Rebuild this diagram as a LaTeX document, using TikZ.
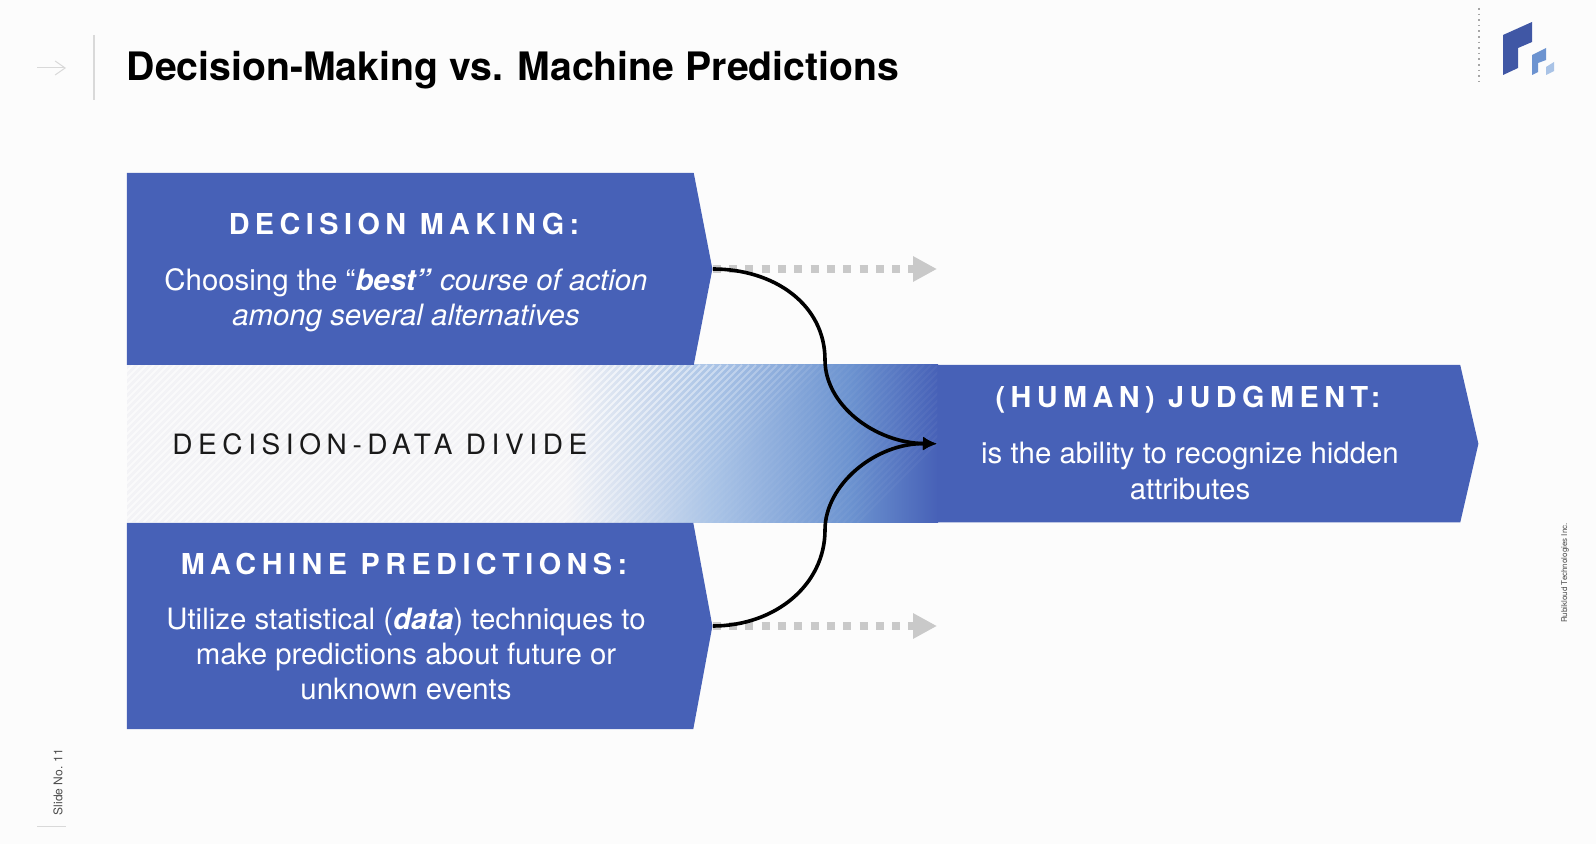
\documentclass[tikz,border=0pt]{standalone}
\usepackage{fontspec}
\setmainfont{TeX Gyre Heros}
\newfontfamily\headfont[LetterSpace=19]{TeX Gyre Heros}
\newfontfamily\dividefont[LetterSpace=20]{TeX Gyre Heros}
\usetikzlibrary{arrows.meta,positioning,shapes.symbols}
\definecolor{slideblue}{HTML}{4761B7}
\definecolor{palebg}{HTML}{F3F3F6}
\definecolor{midblue}{HTML}{A9C3E6}
\definecolor{deepblue}{HTML}{6C93D0}
\definecolor{dotgray}{HTML}{C9C9C9}
\definecolor{rulegray}{HTML}{D9D9D9}
\tikzset{
    bluebox/.style={signal, signal to=east, fill=slideblue, inner sep=0pt, minimum height=#1, anchor=west},
    headtext/.style={text=white, inner sep=0pt, font=\headfont\bfseries\fontsize{14.4}{17}\selectfont},
    bodytext/.style={text=white, inner sep=0pt, align=center, font=\fontsize{14.7}{17.6}\selectfont},
    dotarrow/.style={draw=dotgray, line width=4pt, dash pattern=on 4pt off 4.15pt, -{Triangle[length=12pt,width=12pt,fill=dotgray]}},
    joinarrow/.style={draw=black, line width=1.8pt, -{Latex[length=7pt,width=7pt]}},
    smalltext/.style={text=black!70, inner sep=0pt, rotate=90},
  }

\begin{document}
\begin{tikzpicture}[x=0.5pt,y=-0.5pt]
    \useasboundingbox (0,0) rectangle (1596,844);
    \fill[white!99!black] (0,0) rectangle (1596,844);

    %% title row
    \draw[rulegray, line width=0.5pt, -{Straight Barb[length=5pt,width=7pt]}] (37,68) coordinate (backtail) -- (66,68) coordinate (backhead);
    \draw[rulegray, line width=0.8pt] (94,35) coordinate (ruletop) -- (94,100) coordinate (rulebot);
    \node[anchor=west, inner sep=0pt, font=\bfseries\fontsize{19.6}{23}\selectfont] (title) at (126.5,70) {Decision-Making vs. Machine Predictions};

    %% logo
    \draw[gray!70, line width=0.8pt, dotted] (1479,8) coordinate (logotop) -- (1479,83) coordinate (logobot);
    \fill[slideblue!90!black] (1503,35) -- (1532,22) -- (1532,42) -- (1518,48) -- (1518,68) -- (1503,75) -- cycle;
    \fill[deepblue] (1532,55) -- (1546,48) -- (1546,60) -- (1538,63) -- (1538,72) -- (1532,75) -- cycle;
    \fill[midblue] (1546,67) -- (1554,62) -- (1554,71) -- (1546,75) -- cycle;

    %% band
    \fill[palebg] (126.5,365) rectangle (565,522.5);
    \shade[left color=palebg, right color=midblue] (565,365) rectangle (715,522.5);
    \shade[left color=midblue, right color=deepblue] (715,365) rectangle (850,522.5);
    \shade[left color=deepblue, right color=slideblue] (850,365) rectangle (938,522.5);
    \begin{scope}
      \clip (126.5,365) rectangle (938,522.5);
      \foreach \hx in {-32,-25,...,860} {
        \pgfmathsetmacro{\hop}{\hx<500 ? 0.6 : max(0.04,0.6-(\hx-500)*0.0032)}
        \draw[white, opacity=\hop, line width=0.9pt] (\hx,523) -- ++(158,-158);
      }
    \end{scope}

    %% boxes
    \node[bluebox=96pt, signal pointer angle=158, minimum width=292.75pt] (decide) at (126.5,269) {};
    \node[bluebox=103pt, signal pointer angle=159, minimum width=292.75pt] (machine) at (126.5,626) {};
    \node[bluebox=78.75pt, signal pointer angle=154, minimum width=270.5pt] (judgment) at (937,443.75) {};

    %% text
    \node[headtext] (decidehead) at (404,224) {DECISION MAKING:};
    \node[bodytext] (decidebody) at (406,300.5) {Choosing the “\textbf{\itshape best”} \textit{course of action}\\\textit{among several alternatives}};
    \node[headtext] (machinehead) at (404,564) {MACHINE PREDICTIONS:};
    \node[bodytext] (machinebody) at (406,654) {Utilize statistical (\textbf{\itshape data}) techniques to\\make predictions about future or\\unknown events};
    \node[headtext] (judgmenthead) at (1188,400) {(HUMAN) JUDGMENT:};
    \node[bodytext] (judgmentbody) at (1190,471) {is the ability to recognize hidden\\attributes};
    \node[anchor=west, inner sep=0pt, text=black!90, font=\dividefont\fontsize{14}{17}\selectfont] (divide) at (172,444) {DECISION-DATA DIVIDE};

    %% arrows
    \coordinate (decideend) at (937,269);
    \coordinate (machineend) at (937,626);
    \draw[dotarrow] (decide.east) -- (decideend);
    \draw[dotarrow] (machine.east) -- (machineend);
    \draw[joinarrow] (decide.east) .. controls (775,269) and (825,305) .. (825,360) .. controls (825,405) and (875,443) .. (judgment.west);
    \draw[joinarrow] (machine.east) .. controls (775,626) and (825,585) .. (825,530) .. controls (825,485) and (875,443) .. (judgment.west);

    %% margins
    \node[smalltext, font=\fontsize{6}{7}\selectfont] (slideno) at (58,782) {Slide No. 11};
    \draw[rulegray, line width=0.5pt] (37,826) coordinate (footl) -- (66,826) coordinate (footr);
    \node[smalltext, font=\fontsize{4}{5}\selectfont] (maker) at (1565,573) {Rubikloud Technologies Inc.};
  \end{tikzpicture}
\end{document}
